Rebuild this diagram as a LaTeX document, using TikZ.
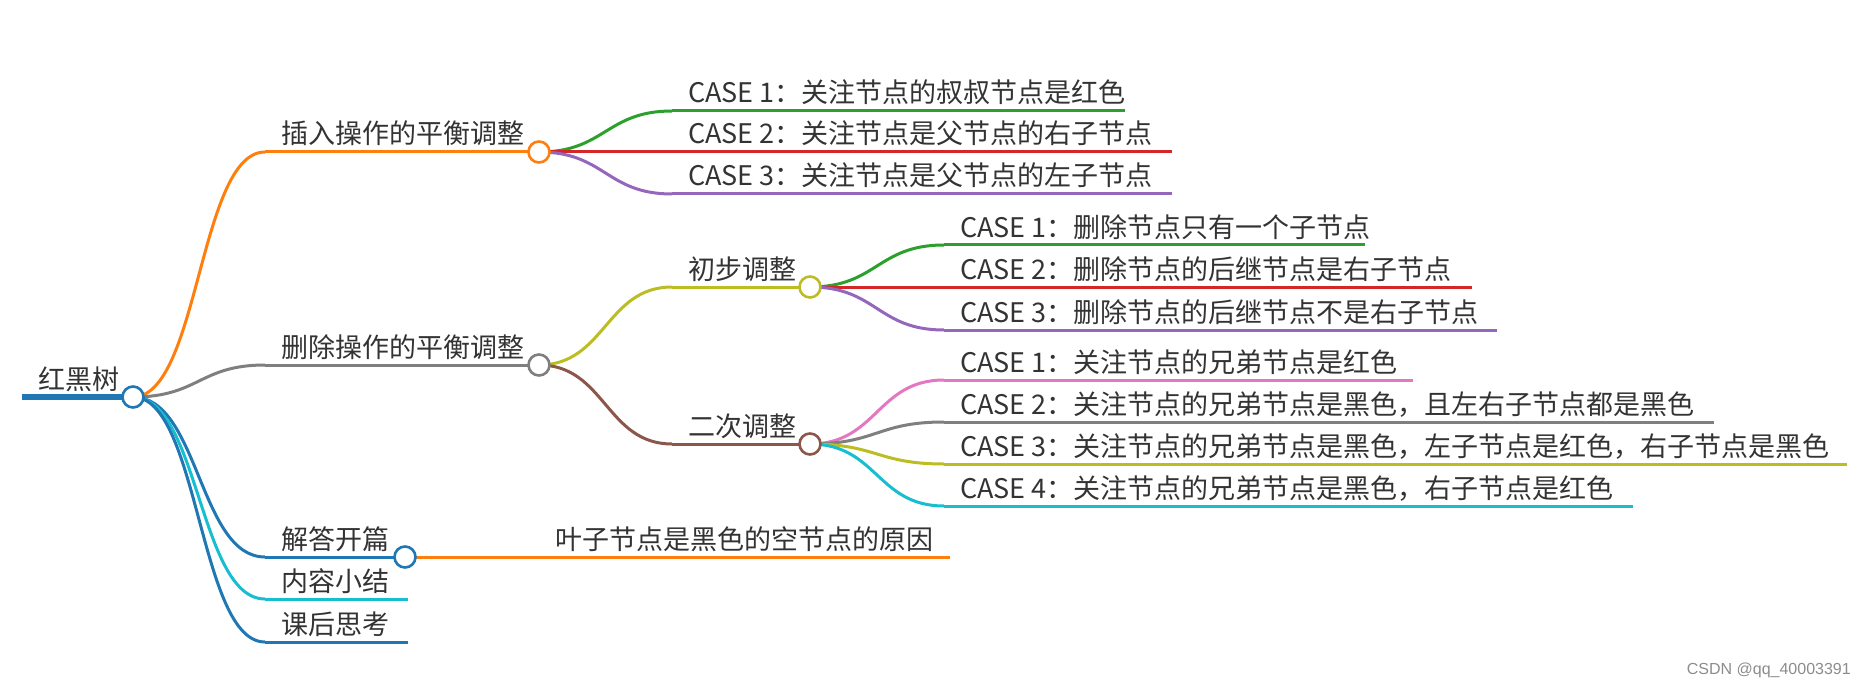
\documentclass[tikz,border=0pt]{standalone}
\usepackage{fontspec}
\newfontfamily\cjk{Noto Sans CJK SC}
\setsansfont{Liberation Sans}
\definecolor{mblue}{HTML}{1F77B4}
\definecolor{morange}{HTML}{FF7F0E}
\definecolor{mgreen}{HTML}{2CA02C}
\definecolor{mred}{HTML}{D62728}
\definecolor{mpurple}{HTML}{9467BD}
\definecolor{mbrown}{HTML}{8C564B}
\definecolor{mpink}{HTML}{E377C2}
\definecolor{mgray}{HTML}{7F7F7F}
\definecolor{molive}{HTML}{BCBD22}
\definecolor{mcyan}{HTML}{17BECF}
\tikzset{
  lb/.style={anchor=base west,inner sep=0pt,font=\cjk\fontsize{27}{32}\selectfont,text=black!80},
  br/.style={line width=3pt,draw=#1},
  lk/.style={line width=3pt,draw=#1},
  hub/.style={circle,draw=#1,fill=white,line width=2.6pt,minimum size=21pt,inner sep=0pt},
}

\begin{document}
\begin{tikzpicture}[x=1pt,y=-1pt]
  \useasboundingbox (0,0) rectangle (1866,687);

  \coordinate (r-a) at (22,397);   \coordinate (r-b) at (133,397);
  \coordinate (ins-a) at (265,152); \coordinate (ins-b) at (539,152);
  \coordinate (del-a) at (265,365); \coordinate (del-b) at (539,365);
  \coordinate (ans-a) at (265,557); \coordinate (ans-b) at (405,557);
  \coordinate (sum-a) at (265,599); \coordinate (sum-b) at (408,599);
  \coordinate (thk-a) at (265,642); \coordinate (thk-b) at (408,642);
  \coordinate (i1-a) at (672,111); \coordinate (i1-b) at (1125,111);
  \coordinate (i2-a) at (672,152); \coordinate (i2-b) at (1172,152);
  \coordinate (i3-a) at (672,194); \coordinate (i3-b) at (1172,194);
  \coordinate (d1-a) at (672,287); \coordinate (d1-b) at (810,287);
  \coordinate (d2-a) at (672,444); \coordinate (d2-b) at (810,444);
  \coordinate (a1-a) at (539,557); \coordinate (a1-b) at (950,557);
  \coordinate (p1-a) at (944,245); \coordinate (p1-b) at (1365,245);
  \coordinate (p2-a) at (944,287); \coordinate (p2-b) at (1472,287);
  \coordinate (p3-a) at (944,330); \coordinate (p3-b) at (1497,330);
  \coordinate (q1-a) at (944,380); \coordinate (q1-b) at (1413,380);
  \coordinate (q2-a) at (944,422); \coordinate (q2-b) at (1714,422);
  \coordinate (q3-a) at (944,464); \coordinate (q3-b) at (1847,464);
  \coordinate (q4-a) at (944,506); \coordinate (q4-b) at (1633,506);

  \node[lb] (r) at (38,389) {红黑树};
  \node[lb] (ins) at (281,144) {插入操作的平衡调整};
  \node[lb] (del) at (281,357) {删除操作的平衡调整};
  \node[lb] (ans) at (281,549) {解答开篇};
  \node[lb] (sum) at (281,591) {内容小结};
  \node[lb] (thk) at (281,634) {课后思考};
  \node[lb] (i1) at (688,103) {CASE 1：关注节点的叔叔节点是红色};
  \node[lb] (i2) at (688,144) {CASE 2：关注节点是父节点的右子节点};
  \node[lb] (i3) at (688,186) {CASE 3：关注节点是父节点的左子节点};
  \node[lb] (d1) at (688,279) {初步调整};
  \node[lb] (d2) at (688,436) {二次调整};
  \node[lb] (a1) at (555,549) {叶子节点是黑色的空节点的原因};
  \node[lb] (p1) at (960,237) {CASE 1：删除节点只有一个子节点};
  \node[lb] (p2) at (960,279) {CASE 2：删除节点的后继节点是右子节点};
  \node[lb] (p3) at (960,322) {CASE 3：删除节点的后继节点不是右子节点};
  \node[lb] (q1) at (960,372) {CASE 1：关注节点的兄弟节点是红色};
  \node[lb] (q2) at (960,414) {CASE 2：关注节点的兄弟节点是黑色，且左右子节点都是黑色};
  \node[lb] (q3) at (960,456) {CASE 3：关注节点的兄弟节点是黑色，左子节点是红色，右子节点是黑色};
  \node[lb] (q4) at (960,498) {CASE 4：关注节点的兄弟节点是黑色，右子节点是红色};

  \draw[lk=morange] (r-b) .. controls +(66,0) and +(-66,0) .. (ins-a);
  \draw[lk=mgray] (r-b) .. controls +(66,0) and +(-66,0) .. (del-a);
  \draw[lk=mblue] (r-b) .. controls +(66,0) and +(-66,0) .. (ans-a);
  \draw[lk=mcyan] (r-b) .. controls +(66,0) and +(-66,0) .. (sum-a);
  \draw[lk=mblue] (r-b) .. controls +(66,0) and +(-66,0) .. (thk-a);
  \draw[lk=mgreen] (ins-b) .. controls +(66,0) and +(-66,0) .. (i1-a);
  \draw[lk=mred] (ins-b) .. controls +(66,0) and +(-66,0) .. (i2-a);
  \draw[lk=mpurple] (ins-b) .. controls +(66,0) and +(-66,0) .. (i3-a);
  \draw[lk=molive] (del-b) .. controls +(66,0) and +(-66,0) .. (d1-a);
  \draw[lk=mbrown] (del-b) .. controls +(66,0) and +(-66,0) .. (d2-a);
  \draw[lk=morange] (ans-b) .. controls +(66,0) and +(-66,0) .. (a1-a);
  \draw[lk=mgreen] (d1-b) .. controls +(67,0) and +(-67,0) .. (p1-a);
  \draw[lk=mred] (d1-b) .. controls +(67,0) and +(-67,0) .. (p2-a);
  \draw[lk=mpurple] (d1-b) .. controls +(67,0) and +(-67,0) .. (p3-a);
  \draw[lk=mpink] (d2-b) .. controls +(67,0) and +(-67,0) .. (q1-a);
  \draw[lk=mgray] (d2-b) .. controls +(67,0) and +(-67,0) .. (q2-a);
  \draw[lk=molive] (d2-b) .. controls +(67,0) and +(-67,0) .. (q3-a);
  \draw[lk=mcyan] (d2-b) .. controls +(67,0) and +(-67,0) .. (q4-a);

  \draw[br=mblue,line width=6pt] (r-a) -- (r-b);
  \draw[br=morange] (ins-a) -- (ins-b);
  \draw[br=mgray] (del-a) -- (del-b);
  \draw[br=mblue] (ans-a) -- (ans-b);
  \draw[br=mcyan] (sum-a) -- (sum-b);
  \draw[br=mblue] (thk-a) -- (thk-b);
  \draw[br=mgreen] (i1-a) -- (i1-b);
  \draw[br=mred] (i2-a) -- (i2-b);
  \draw[br=mpurple] (i3-a) -- (i3-b);
  \draw[br=molive] (d1-a) -- (d1-b);
  \draw[br=mbrown] (d2-a) -- (d2-b);
  \draw[br=morange] (a1-a) -- (a1-b);
  \draw[br=mgreen] (p1-a) -- (p1-b);
  \draw[br=mred] (p2-a) -- (p2-b);
  \draw[br=mpurple] (p3-a) -- (p3-b);
  \draw[br=mpink] (q1-a) -- (q1-b);
  \draw[br=mgray] (q2-a) -- (q2-b);
  \draw[br=molive] (q3-a) -- (q3-b);
  \draw[br=mcyan] (q4-a) -- (q4-b);

  \node[hub=mblue] (r-h) at (r-b) {};
  \node[hub=morange] (ins-h) at (ins-b) {};
  \node[hub=mgray] (del-h) at (del-b) {};
  \node[hub=mblue] (ans-h) at (ans-b) {};
  \node[hub=molive] (d1-h) at (d1-b) {};
  \node[hub=mbrown] (d2-h) at (d2-b) {};

  \node[anchor=base east,inner sep=0pt,font=\sffamily\fontsize{16}{18}\selectfont,text=black!45] (wm) at (1851,674) {CSDN @qq\_40003391};
\end{tikzpicture}
\end{document}
